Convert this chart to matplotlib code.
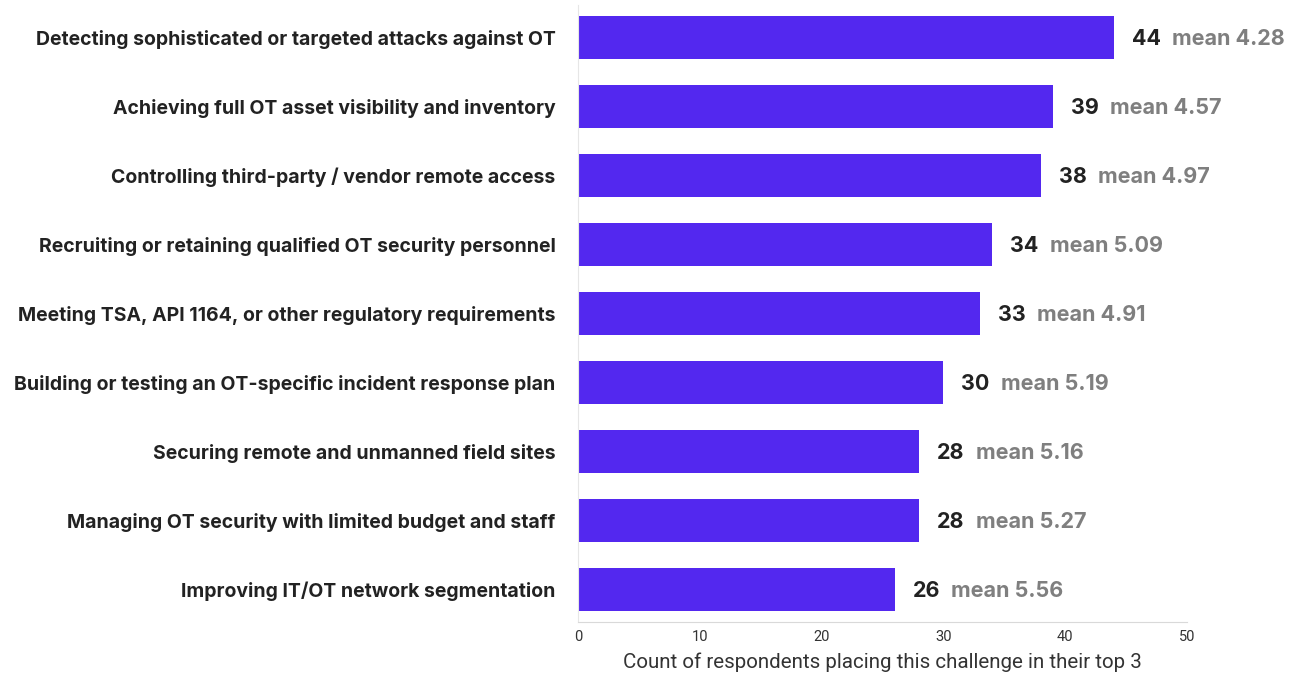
import matplotlib
matplotlib.use('Agg')
import matplotlib.pyplot as plt

# challenges, top-down
challenges = [
    'Detecting sophisticated or targeted attacks against OT',
    'Achieving full OT asset visibility and inventory',
    'Controlling third-party / vendor remote access',
    'Recruiting or retaining qualified OT security personnel',
    'Meeting TSA, API 1164, or other regulatory requirements',
    'Building or testing an OT-specific incident response plan',
    'Securing remote and unmanned field sites',
    'Managing OT security with limited budget and staff',
    'Improving IT/OT network segmentation',
]
counts = [44, 39, 38, 34, 33, 30, 28, 28, 26]
means = [4.28, 4.57, 4.97, 5.09, 4.91, 5.19, 5.16, 5.27, 5.56]
xticks = [0, 10, 20, 30, 40, 50]

BAR = '#5328EF'
DARK = '#222222'
GREY = '#7f7f7f'

fig = plt.figure(figsize=(12.93, 6.77), dpi=100)
ax = fig.add_axes([0.447, 0.0812, 0.471, 0.9114])

ypos = list(range(len(challenges)))
ax.barh(ypos, counts, height=0.63, color=BAR)

ax.set_ylim(len(challenges) - 0.53, -0.47)
ax.set_xlim(0, 50)

# labels on the left
ax.set_yticks(ypos)
ax.set_yticklabels(challenges, family='Inter', fontweight='bold', fontsize=14, color=DARK)
ax.tick_params(axis='y', length=0, pad=16)

ax.set_xticks(xticks)
ax.set_xticklabels([str(t) for t in xticks], family='Roboto', fontsize=10.5, color='#333333')
ax.tick_params(axis='x', length=0, pad=6)
ax.set_xlabel('Count of respondents placing this challenge in their top 3',
              family='Roboto', fontsize=14.8, color='#333333', labelpad=6)

# value + mean annotations
for y, c, m in zip(ypos, counts, means):
    t = ax.annotate(str(c), xy=(c, y), xytext=(13, -1), textcoords='offset points',
                    va='center', ha='left', family='Inter', fontweight='bold',
                    fontsize=15.5, color=DARK)
    ax.annotate('mean %.2f' % m, xy=(1, 0.5), xycoords=t, xytext=(8, 0),
                textcoords='offset points', va='center', ha='left',
                family='Inter', fontweight='bold', fontsize=15.5, color=GREY)

for s in ['top', 'right']:
    ax.spines[s].set_visible(False)
ax.spines['left'].set_color('#e6e6e6')
ax.spines['bottom'].set_color('#d9d9d9')

fig.savefig('out.png', dpi=100)
